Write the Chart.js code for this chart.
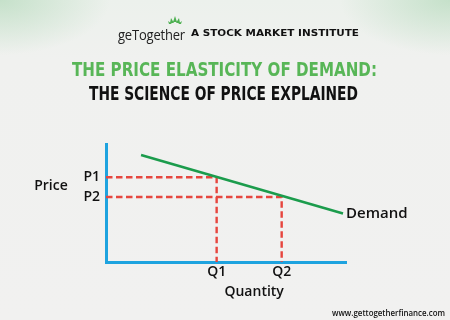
<!DOCTYPE html>
<html>
<head>
<meta charset="utf-8">
<script src="https://cdn.jsdelivr.net/npm/chart.js@4.4.0/dist/chart.umd.min.js"></script>
<style>
  html,body{margin:0;padding:0;}
  body{width:450px;height:320px;overflow:hidden;position:relative;
    background:
      radial-gradient(ellipse 110px 55px at 0px 0px, rgba(150,205,160,0.45), rgba(150,205,160,0) 100%),
      radial-gradient(ellipse 110px 55px at 450px 0px, rgba(150,205,160,0.45), rgba(150,205,160,0) 100%),
      linear-gradient(#ecf1ec 0px, #f0f1ef 60px, #f1f1f0 320px);
  }
  #wrap{position:absolute;left:0;top:0;width:450px;height:320px;}
  .txt{position:absolute;white-space:nowrap;transform-origin:0 50%;}
  #logo1{left:118px;top:24px;font-family:"Open Sans",sans-serif;font-weight:400;font-size:15px;color:#222;letter-spacing:-0.2px;}
  #logo2{left:191px;top:27px;font-family:"DejaVu Sans",sans-serif;font-weight:900;font-size:9.5px;color:#111;}
  #t1{left:72px;top:58px;font-family:"Liberation Sans Narrow","DejaVu Sans Condensed",sans-serif;font-weight:bold;font-size:20px;line-height:22px;color:#58b657;}
  #t2{left:89px;top:82px;font-family:"Liberation Sans Narrow","DejaVu Sans Condensed",sans-serif;font-weight:bold;font-size:20px;line-height:22px;color:#111;}
  #web{left:332px;top:307px;font-family:"Open Sans",sans-serif;font-weight:600;font-size:8px;line-height:12px;color:#111;}
  #lotus{position:absolute;left:168px;top:16px;}
</style>
</head>
<body>
<div id="wrap"><canvas id="c" width="450" height="320"></canvas></div>
<div class="txt" id="logo1" data-w="67">geTogether</div>
<svg id="lotus" width="14" height="9" viewBox="0 0 14 9">
  <path d="M7 0 L9 6 L5 6 Z M3 2 L6 7 L2 7 Z M11 2 L12 7 L8 7 Z M0 5 L4 8 L1 8 Z M14 5 L13 8 L10 8 Z" fill="#4cb050"/>
</svg>
<div class="txt" id="logo2" data-w="168">A STOCK MARKET INSTITUTE</div>
<div class="txt" id="t1" data-w="305">THE PRICE ELASTICITY OF DEMAND:</div>
<div class="txt" id="t2" data-w="269">THE SCIENCE OF PRICE EXPLAINED</div>
<div class="txt" id="web" data-w="113">www.gettogetherfinance.com</div>
<script>
// ---- data ----
const demandQty   = [1.46, 9.875];
const demandPrice = [9.07, 4.11];
const priceLabels = ['P1', 'P2'];
const priceValues = [7.18, 5.51];
const qtyLabels   = ['Q1', 'Q2'];
const qtyValues   = [4.61, 7.32];
const axisTitleX  = 'Quantity';
const axisTitleY  = 'Price';
const seriesName  = 'Demand';

// fit text widths
document.querySelectorAll('.txt[data-w]').forEach(el=>{
  const w = el.getBoundingClientRect().width;
  const target = +el.dataset.w;
  el.style.transform = 'scaleX(' + (target / w) + ')';
});

const RED = '#e6463e', GREEN = '#1b9c4c', BLUE = '#1ea3df';
const labelFont = {family: '"Open Sans", sans-serif', size: 14, weight: '600'};

const datasets = [];
datasets.push({
  label: seriesName,
  data: demandQty.map((q, i) => ({x: q, y: demandPrice[i]})),
  borderColor: GREEN, borderWidth: 2.6, showLine: true, pointRadius: 0, order: 0
});
qtyValues.forEach((q, i) => {
  const p = priceValues[i];
  datasets.push({
    label: 'h' + i,
    data: [{x: 0, y: p}, {x: q, y: p}, {x: q, y: 0}],
    borderColor: RED, borderWidth: 2.4, borderDash: [6.5, 3.5],
    showLine: true, pointRadius: 0, order: 1
  });
});

const labelPlugin = {
  id: 'labels',
  afterDraw(chart) {
    const {ctx, scales: {x, y}} = chart;
    ctx.save();
    ctx.fillStyle = '#111';
    ctx.font = '600 14px "Open Sans", sans-serif';
    ctx.textBaseline = 'middle';
    // Price
    ctx.textAlign = 'center';
    const py = (y.getPixelForValue(priceValues[0]) + y.getPixelForValue(priceValues[1])) / 2 - 1;
    ctx.fillText(axisTitleY, x.left - 55, py);
    // Quantity
    const qx = (x.getPixelForValue(qtyValues[0]) + x.getPixelForValue(qtyValues[1])) / 2 + 5;
    ctx.fillText(axisTitleX, qx, y.bottom + 30);
    // Demand
    ctx.textAlign = 'left';
    const li = demandQty.length - 1;
    ctx.font = '600 15px "Open Sans", sans-serif';
    ctx.fillText(seriesName, x.getPixelForValue(demandQty[li]) + 3, y.getPixelForValue(demandPrice[li]));
    ctx.restore();
  }
};

new Chart(document.getElementById('c'), {
  type: 'scatter',
  data: {datasets},
  plugins: [labelPlugin],
  options: {
    responsive: false,
    animation: false,
    layout: {padding: {left: 0, top: 144, right: 104, bottom: 0}},
    plugins: {legend: {display: false}, tooltip: {enabled: false}},
    scales: {
      x: {
        type: 'linear', min: 0, max: 10,
        grid: {display: false, drawTicks: false},
        border: {display: true, color: BLUE, width: 3},
        afterBuildTicks(s) { s.ticks = qtyValues.map(v => ({value: v})); },
        afterFit(s) { s.height = 58; },
        ticks: {
          color: '#111', font: labelFont, padding: 2, maxRotation: 0, autoSkip: false,
          callback: (v) => { const i = qtyValues.indexOf(v); return i >= 0 ? qtyLabels[i] : ''; }
        }
      },
      y: {
        type: 'linear', min: 0, max: 10,
        grid: {display: false, drawTicks: false},
        border: {display: true, color: BLUE, width: 3},
        afterBuildTicks(s) { s.ticks = priceValues.map(v => ({value: v})); },
        afterFit(s) { s.width = 106; },
        ticks: {
          color: '#111', font: labelFont, padding: 6, autoSkip: false,
          callback: (v) => { const i = priceValues.indexOf(v); return i >= 0 ? priceLabels[i] : ''; }
        }
      }
    }
  }
});
</script>
</body>
</html>
